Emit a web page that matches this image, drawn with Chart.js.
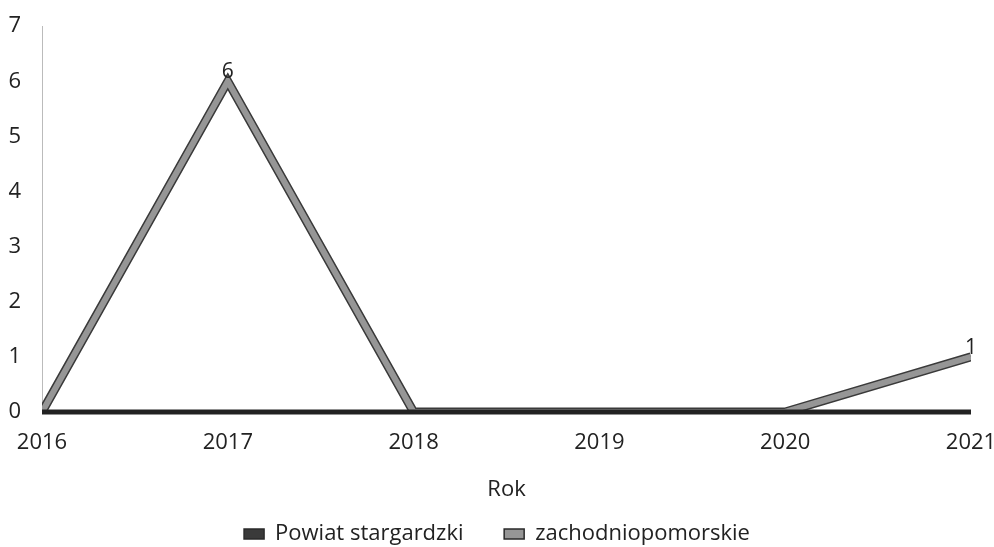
<!DOCTYPE html>
<html>
<head>
<meta charset="utf-8">
<script src="https://cdn.jsdelivr.net/npm/chart.js@4/dist/chart.umd.min.js"></script>
<style>
  html, body { margin: 0; padding: 0; background: #fff; }
  #wrap { width: 994px; height: 547px; }
</style>
</head>
<body>
<div id="wrap"><canvas id="wykres"></canvas></div>
<script>
// Dane
var lata = ['2016', '2017', '2018', '2019', '2020', '2021'];
var powiatStargardzki = [0, 0, 0, 0, 0, 0];
var zachodniopomorskie = [0, 6, 0, 0, 0, 1];
var etykietyY = [0, 1, 2, 3, 4, 5, 6, 7];

var czcionka = "'Open Sans', 'Noto Sans', sans-serif";

// Etykiety wartości nad punktami (tylko > 0)
var etykietyWartosci = {
    id: 'etykietyWartosci',
    afterDatasetsDraw: function (chart) {
        var ctx = chart.ctx;
        var meta = chart.getDatasetMeta(1);
        ctx.save();
        ctx.font = '21px ' + czcionka;
        ctx.fillStyle = '#222';
        ctx.textAlign = 'center';
        ctx.textBaseline = 'alphabetic';
        meta.data.forEach(function (pt, i) {
            var v = zachodniopomorskie[i];
            if (v > 0) {
                ctx.fillText(String(v), pt.x, pt.y - 3);
            }
        });
        ctx.restore();
    }
};

var ctx = document.getElementById('wykres').getContext('2d');
window.myChart = new Chart(ctx, {
    type: 'line',
    data: {
        labels: lata,
        datasets: [{
            label: 'Powiat stargardzki',
            data: powiatStargardzki,
            borderColor: '#222222',
            backgroundColor: '#3a3a3a',
            borderWidth: 5,
            pointRadius: 0,
            borderCapStyle: 'butt',
            clip: false,
            order: 0
        }, {
            label: 'zachodniopomorskie',
            data: zachodniopomorskie,
            borderColor: '#969696',
            backgroundColor: '#969696',
            borderWidth: 6,
            pointRadius: 0,
            borderCapStyle: 'butt',
            borderJoinStyle: 'miter',
            clip: 0,
            order: 1
        }, {
            label: '',
            data: zachodniopomorskie,
            borderColor: '#3a3a3a',
            borderWidth: 9,
            pointRadius: 0,
            borderCapStyle: 'butt',
            borderJoinStyle: 'miter',
            clip: 0,
            order: 2
        }]
    },
    options: {
        responsive: true,
        maintainAspectRatio: false,
        animation: false,
        layout: { padding: { left: 0, right: 0, top: 14, bottom: -8 } },
        plugins: {
            tooltip: { enabled: false },
            legend: {
                position: 'bottom',
                labels: {
                    font: { family: czcionka, size: 22 },
                    color: '#222',
                    boxWidth: 20,
                    boxHeight: 10,
                    padding: 4,
                    filter: function (item) { return item.datasetIndex < 2; },
                    generateLabels: function (chart) {
                        var items = Chart.defaults.plugins.legend.labels.generateLabels(chart);
                        items.forEach(function (it) {
                            it.strokeStyle = '#2a2a2a';
                            it.lineWidth = 1.5;
                        });
                        // odstęp między pozycjami legendy
                        items[0].text = items[0].text + '\u2003\u2002\u2009';
                        return items;
                    }
                }
            }
        },
        scales: {
            x: {
                offset: false,
                grid: { display: false },
                border: { display: false },
                afterFit: function (axis) {
                    axis.height = 107;
                    axis.paddingRight = 23;
                },
                ticks: {
                    font: { family: czcionka, size: 22 },
                    color: '#222',
                    maxRotation: 0,
                    padding: 10
                },
                title: {
                    display: true,
                    text: 'Rok',
                    font: { family: czcionka, size: 22 },
                    color: '#222',
                    padding: { top: 18, bottom: 16 }
                }
            },
            y: {
                min: 0,
                max: 7,
                grid: { display: false },
                border: { display: true, color: '#bbbbbb', width: 1, dash: [2, 2] },
                afterBuildTicks: function (axis) {
                    axis.ticks = etykietyY.map(function (v) { return { value: v }; });
                },
                afterFit: function (axis) { axis.width = 42; },
                ticks: {
                    font: { family: czcionka, size: 22 },
                    color: '#222',
                    padding: 13
                }
            }
        }
    },
    plugins: [etykietyWartosci]
});
</script>
</body>
</html>
